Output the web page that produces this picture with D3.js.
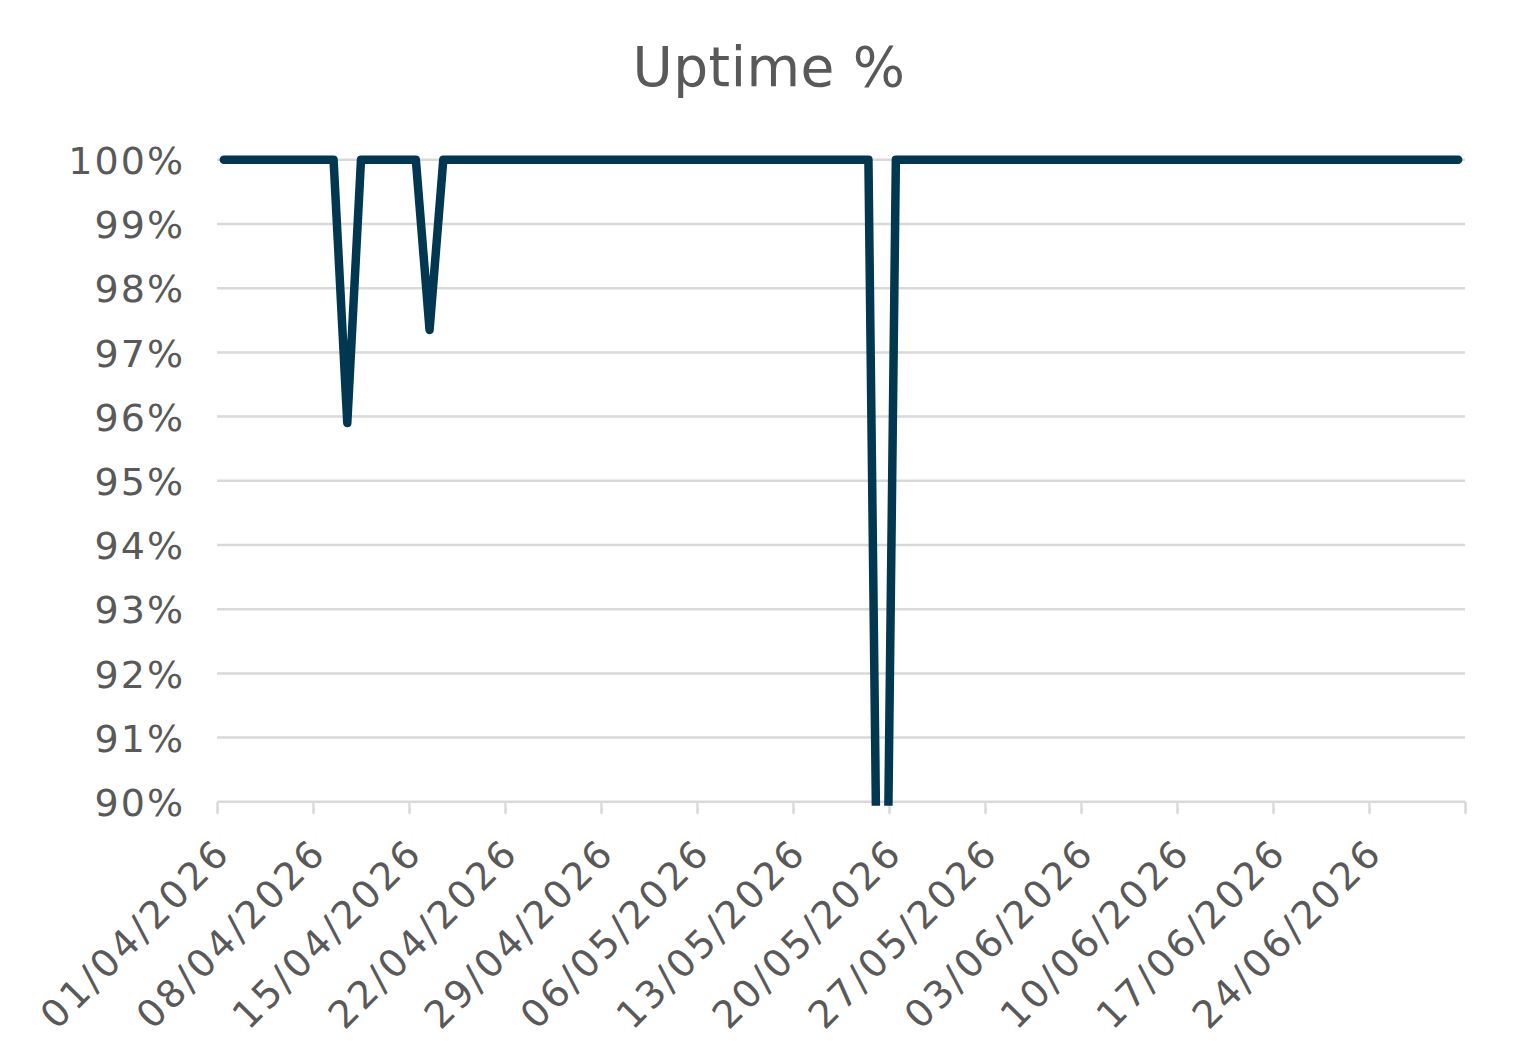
<!DOCTYPE html>
<html>
<head>
<meta charset="utf-8">
<script src="https://cdn.jsdelivr.net/npm/d3@7"></script>
<style>
  html, body { margin: 0; padding: 0; background: #ffffff; }
  svg { display: block; }
  text { font-family: "DejaVu Sans", sans-serif; fill: #595959; }
</style>
</head>
<body>
<svg id="chart" width="1539" height="1063"></svg>
<script>
// ---- data ----
const title = "Uptime %";
const dates = [
  "2026-04-01","2026-04-02","2026-04-03","2026-04-04","2026-04-05","2026-04-06","2026-04-07","2026-04-08","2026-04-09","2026-04-10",
  "2026-04-11","2026-04-12","2026-04-13","2026-04-14","2026-04-15","2026-04-16","2026-04-17","2026-04-18","2026-04-19","2026-04-20",
  "2026-04-21","2026-04-22","2026-04-23","2026-04-24","2026-04-25","2026-04-26","2026-04-27","2026-04-28","2026-04-29","2026-04-30",
  "2026-05-01","2026-05-02","2026-05-03","2026-05-04","2026-05-05","2026-05-06","2026-05-07","2026-05-08","2026-05-09","2026-05-10",
  "2026-05-11","2026-05-12","2026-05-13","2026-05-14","2026-05-15","2026-05-16","2026-05-17","2026-05-18","2026-05-19","2026-05-20",
  "2026-05-21","2026-05-22","2026-05-23","2026-05-24","2026-05-25","2026-05-26","2026-05-27","2026-05-28","2026-05-29","2026-05-30",
  "2026-05-31","2026-06-01","2026-06-02","2026-06-03","2026-06-04","2026-06-05","2026-06-06","2026-06-07","2026-06-08","2026-06-09",
  "2026-06-10","2026-06-11","2026-06-12","2026-06-13","2026-06-14","2026-06-15","2026-06-16","2026-06-17","2026-06-18","2026-06-19",
  "2026-06-20","2026-06-21","2026-06-22","2026-06-23","2026-06-24","2026-06-25","2026-06-26","2026-06-27","2026-06-28","2026-06-29",
  "2026-06-30"
];
const uptime = [
  100,100,100,100,100,100,100,100,100,95.9,
  100,100,100,100,100,97.35,100,100,100,100,
  100,100,100,100,100,100,100,100,100,100,
  100,100,100,100,100,100,100,100,100,100,
  100,100,100,100,100,100,100,100,81.5,100,
  100,100,100,100,100,100,100,100,100,100,
  100,100,100,100,100,100,100,100,100,100,
  100,100,100,100,100,100,100,100,100,100,
  100,100,100,100,100,100,100,100,100,100,
  100
];
const xTickDates = ["2026-04-01","2026-04-08","2026-04-15","2026-04-22","2026-04-29","2026-05-06","2026-05-13",
                    "2026-05-20","2026-05-27","2026-06-03","2026-06-10","2026-06-17","2026-06-24","2026-07-01"];
const xTickLabels = ["01/04/2026","08/04/2026","15/04/2026","22/04/2026","29/04/2026","06/05/2026","13/05/2026",
                     "20/05/2026","27/05/2026","03/06/2026","10/06/2026","17/06/2026","24/06/2026",""];
const yTicks = [90,91,92,93,94,95,96,97,98,99,100];
const yDomain = [90, 100];
const xDomain = ["2026-04-01","2026-07-01"];

// ---- layout ----
const parse = d3.utcParse("%Y-%m-%d");
const plotLeft = 217, plotRight = 1465, plotTop = 159.8, plotBottom = 801.8;

const svg = d3.select("#chart");
const x = d3.scaleUtc().domain(xDomain.map(parse)).range([plotLeft, plotRight]);
const y = d3.scaleLinear().domain(yDomain).range([plotBottom, plotTop]);

const data = dates.map((d, i) => ({ date: d3.utcHour.offset(parse(d), 12), v: uptime[i] }));

// title
svg.append("text")
  .attr("x", 769).attr("y", 86)
  .attr("text-anchor", "middle")
  .style("font-size", "55px")
  .style("letter-spacing", "0.5px")
  .text(title);

// gridlines
svg.append("g")
  .selectAll("line")
  .data(yTicks.filter(t => t !== 90))
  .join("line")
  .attr("x1", plotLeft).attr("x2", plotRight)
  .attr("y1", d => y(d)).attr("y2", d => y(d))
  .attr("stroke", "#d9d9d9").attr("stroke-width", 2.5);

// y axis labels
const yAxis = d3.axisLeft(y).tickValues(yTicks).tickSize(0).tickPadding(0)
  .tickFormat(d => d + "%");
const gy = svg.append("g").attr("transform", `translate(185,0)`).call(yAxis);
gy.select(".domain").remove();
gy.selectAll("text")
  .attr("dy", "0.36em")
  .style("font-size", "38px")
  .style("letter-spacing", "2px")
  .style("font-family", "'DejaVu Sans', sans-serif")
  .attr("fill", "#595959");

// x axis
const xAxis = d3.axisBottom(x)
  .tickValues(xTickDates.map(parse))
  .tickSize(12)
  .tickFormat((d, i) => xTickLabels[i]);
const gx = svg.append("g").attr("transform", `translate(0,${plotBottom})`).call(xAxis);
gx.select(".domain")
  .attr("stroke", "#d9d9d9").attr("stroke-width", 2.5)
  .attr("d", `M${plotLeft},0H${plotRight}`);
gx.selectAll(".tick line").attr("stroke", "#d9d9d9").attr("stroke-width", 2.5);
gx.selectAll(".tick text")
  .attr("text-anchor", "end")
  .attr("x", 0).attr("y", 0).attr("dy", 0)
  .attr("transform", "translate(15,53) rotate(-45)")
  .style("font-size", "38px")
  .style("letter-spacing", "3px")
  .style("font-family", "'DejaVu Sans', sans-serif")
  .attr("fill", "#595959");

// clip for line
svg.append("clipPath").attr("id", "plotclip")
  .append("rect")
  .attr("x", 0).attr("y", 0)
  .attr("width", 1539).attr("height", plotBottom + 4);

const line = d3.line()
  .x(d => x(d.date))
  .y(d => y(d.v));

svg.append("path")
  .datum(data)
  .attr("clip-path", "url(#plotclip)")
  .attr("fill", "none")
  .attr("stroke", "#013751")
  .attr("stroke-width", 8.5)
  .attr("stroke-linejoin", "round")
  .attr("stroke-linecap", "round")
  .attr("d", line);
</script>
</body>
</html>
